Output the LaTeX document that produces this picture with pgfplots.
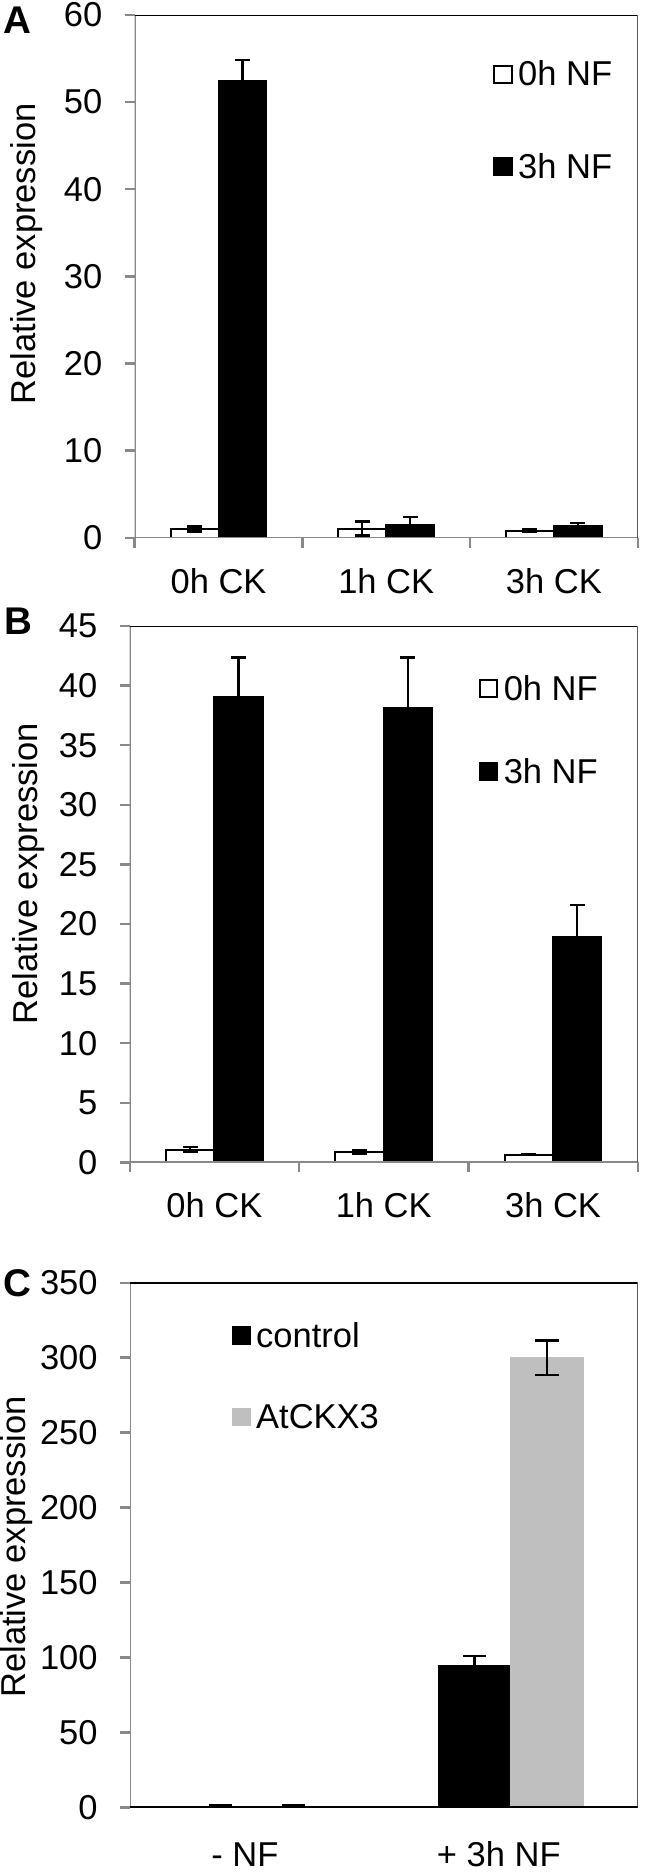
\documentclass[border=0pt]{standalone}
\usepackage{fontspec}
\setmainfont{Liberation Sans}
\usepackage{pgfplots}
\pgfplotsset{compat=1.18}
\definecolor{axgray}{RGB}{137,137,137}
\definecolor{bargray}{RGB}{191,191,191}
\pgfplotsset{
  panel/.style={
    scale only axis,
    anchor=south west,
    font=\fontsize{17.25}{20}\selectfont,
    /pgf/number format/assume math mode=true,
    ymin=0,
    tick align=outside,
    tick pos=left,
    axis line style={draw=none},
    y tick style={axgray, line width=1.2pt},
    x tick style={axgray, line width=1.2pt},
    major tick length=5pt,
    ybar,
    bar width=0.286,
    yticklabel style={anchor=east, inner sep=0pt, xshift=-11pt},
    xticklabel style={anchor=base, inner sep=0pt, yshift=-27.7pt},
    legend cell align=left,
    legend style={draw=none, fill=none, inner sep=0pt, outer sep=0pt,
      column sep=2.8pt, nodes={inner sep=0pt}, font=\fontsize{17.25}{20}\selectfont},
  },
  legsq/.style={legend image code/.code={\draw[##1] (0pt,-4pt) rectangle (8.8pt,4.6pt);}},
  eb/.style={error bars/.cd, y dir=both, y explicit,
    error bar style={black, line width=1.2pt},
    error mark=-,
    error mark options={rotate=90, black, line width=1.2pt, mark size=#1}},
}
\begin{document}
\begin{tikzpicture}
\path[use as bounding box] (0,0) rectangle (323.5pt,-936pt);

% ---------------- Panel A ----------------
\begin{axis}[panel,
  at={(67.35pt,-268.85pt)}, width=251.5pt, height=261.35pt,
  xmin=-0.5, xmax=2.5, ymax=60, ytick={0,10,...,60},
  xtick={-0.5,0.5,1.5,2.5}, xticklabels={,,,},
  extra x ticks={0,1,2}, extra x tick labels={0h CK,1h CK,3h CK},
  extra x tick style={major tick length=0pt},
  ylabel={Relative expression},
  ylabel style={at={(axis description cs:-0.2141,0.5428)}, anchor=center},
  legend style={at={(axis description cs:0.7123,0.912)}, anchor=north west, row sep=32.2pt},
]
\addplot[ybar, bar shift=-0.143, fill=white, draw=black, line width=1pt, legsq, eb=3.75pt]
  coordinates {(0,1.0) +- (0,0.3) (1,1.05) +- (0,0.8) (2,0.78) +- (0,0.15)};
\addplot[ybar, bar shift=0.143, fill=black, draw=black, line width=1pt, legsq, eb=3.75pt]
  coordinates {(0,52.4) +- (0,2.45) (1,1.5) +- (0,0.9) (2,1.37) +- (0,0.35)};
\legend{0h NF,3h NF}
\draw[axgray, line width=1.2pt] (rel axis cs:0,0) -- (rel axis cs:0,1);
\draw[axgray, line width=1.2pt] (rel axis cs:0,0) -- (rel axis cs:1,0);
\draw[black, line width=1.2pt] (rel axis cs:0,1) -- (rel axis cs:1,1) -- (rel axis cs:1,0);
\end{axis}

% ---------------- Panel B ----------------
\begin{axis}[panel,
  at={(64.85pt,-581.15pt)}, width=254pt, height=268.15pt,
  xmin=-0.5, xmax=2.5, ymax=45, ytick={0,5,...,45},
  xtick={-0.5,0.5,1.5,2.5}, xticklabels={,,,},
  extra x ticks={0,1,2}, extra x tick labels={0h CK,1h CK,3h CK},
  extra x tick style={major tick length=0pt},
  ylabel={Relative expression},
  ylabel style={at={(axis description cs:-0.1982,0.5381)}, anchor=center},
  legend style={at={(axis description cs:0.6868,0.9086)}, anchor=north west, row sep=27.7pt},
]
\addplot[ybar, bar shift=-0.143, fill=white, draw=black, line width=1pt, legsq, eb=3.75pt]
  coordinates {(0,1.06) +- (0,0.2) (1,0.9) +- (0,0.15) (2,0.65) +- (0,0.05)};
\addplot[ybar, bar shift=0.143, fill=black, draw=black, line width=1pt, legsq, eb=3.75pt]
  coordinates {(0,39.05) +- (0,3.3) (1,38.1) +- (0,4.25) (2,18.9) +- (0,2.7)};
\legend{0h NF,3h NF}
\draw[axgray, line width=1.2pt] (rel axis cs:0,0) -- (rel axis cs:0,1);
\draw[axgray, line width=1.2pt] (rel axis cs:0,0) -- (rel axis cs:1,0);
\draw[black, line width=1.2pt] (rel axis cs:0,1) -- (rel axis cs:1,1) -- (rel axis cs:1,0);
\end{axis}

% ---------------- Panel C ----------------
\begin{axis}[panel,
  at={(65pt,-903.75pt)}, width=253.85pt, height=262.4pt,
  xmin=-0.5, xmax=1.5, ymax=350, ytick={0,50,...,350},
  xtick={0,1}, xticklabels={- NF,+ 3h NF},
  x tick style={draw=none},
  xticklabel style={xshift=-6pt, yshift=3pt},
  ylabel={Relative expression},
  ylabel style={at={(axis description cs:-0.2236,0.4964)}, anchor=center},
  legend style={at={(axis description cs:0.2009,0.9251)}, anchor=north west, row sep=27pt},
]
\addplot[ybar, bar shift=-0.143, fill=black, draw=black, line width=0.5pt, legsq, eb=5.8pt]
  coordinates {(0,1.0) +- (0,0.4) (1,95.0) +- (0,6.0)};
\addplot[ybar, bar shift=0.143, fill=bargray, draw=bargray, line width=0.5pt, legsq, eb=5.8pt]
  coordinates {(0,0.8) +- (0,0.5) (1,300.0) +- (0,11.5)};
\legend{control,AtCKX3}
\draw[axgray, line width=1.2pt] (rel axis cs:0,0) -- (rel axis cs:0,1);
\draw[black, line width=1.2pt] (rel axis cs:0,0) -- (rel axis cs:1,0);
\draw[black, line width=1.2pt] (rel axis cs:0,1) -- (rel axis cs:1,1) -- (rel axis cs:1,0);
\end{axis}

% panel letters
\node[font=\fontsize{19.3}{22}\selectfont\bfseries, anchor=center] at (8.75pt,-10pt) {A};
\node[font=\fontsize{19.3}{22}\selectfont\bfseries, anchor=center] at (9pt,-310.5pt) {B};
\node[font=\fontsize{19.3}{22}\selectfont\bfseries, anchor=center] at (8.75pt,-641.5pt) {C};
\end{tikzpicture}
\end{document}
